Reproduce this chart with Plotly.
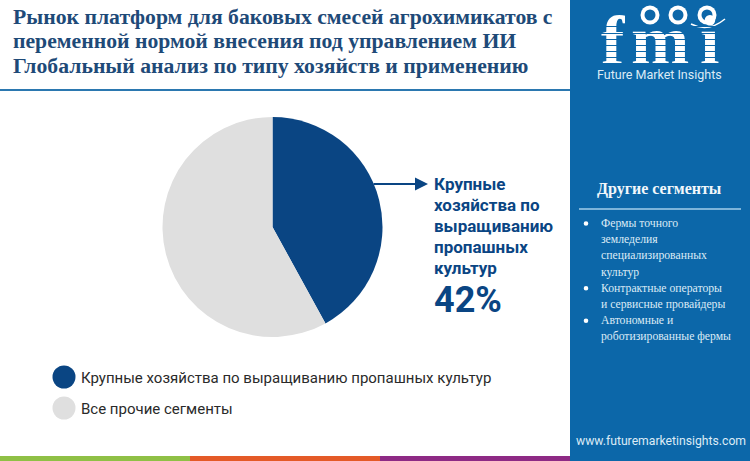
import plotly.graph_objects as go

W = 750
H = 461

title_lines = [
    "Рынок платформ для баковых смесей агрохимикатов с",
    "переменной нормой внесения под управлением ИИ",
    "Глобальный анализ по типу хозяйств и применению",
]
segments = ["Крупные хозяйства по выращиванию пропашных культур", "Все прочие сегменты"]
shares = [42, 58]
colors = ["#0a4583", "#dfdfdf"]
callout_lines = ["Крупные", "хозяйства по", "выращиванию", "пропашных", "культур"]
callout_value = "42%"
other_title = "Другие сегменты"
other_items = [
    ["Фермы точного", "земледелия", "специализированных", "культур"],
    ["Контрактные операторы", "и сервисные провайдеры"],
    ["Автономные и", "роботизированные фермы"],
]

BLUE = "#0c67a9"
SERIF = "Liberation Serif"
SANS = "Roboto"


def px(x):
    return x / W


def py(y):
    return 1 - y / H


def rect(fig, x0, y0, x1, y1, color):
    fig.add_shape(type="rect", xref="paper", yref="paper", x0=px(x0), x1=px(x1),
                  y0=py(y1), y1=py(y0), fillcolor=color, line_width=0, layer="below")


def dot(fig, cx, cy, r, color):
    fig.add_shape(type="circle", xref="paper", yref="paper", x0=px(cx - r), x1=px(cx + r),
                  y0=py(cy + r), y1=py(cy - r), fillcolor=color, line_width=0)


def label(fig, x, y, text, size, color, family=SANS, anchor="left"):
    fig.add_annotation(xref="paper", yref="paper", x=px(x), y=py(y), text=text, showarrow=False,
                       xanchor=anchor, yanchor="middle", align=anchor,
                       font=dict(size=size, color=color, family=family))


fig = go.Figure()
fig.add_trace(go.Pie(
    labels=segments, values=shares, sort=False, direction="clockwise", rotation=0,
    marker=dict(colors=colors, line=dict(width=0)), textinfo="none", showlegend=False,
    domain=dict(x=[px(162.5), px(382.5)], y=[py(337), py(117)]),
))

# panel and bottom stripe
rect(fig, 570, 0, 750, 461, BLUE)
rect(fig, 0, 456, 190, 461, "#8fc045")
rect(fig, 190, 456, 380, 461, "#e45a27")
rect(fig, 380, 456, 570, 461, "#8e2a85")
rect(fig, 0, 89, 570, 91, "#2b78b0")

for i, line in enumerate(title_lines):
    label(fig, 11, 17 + i * 24.5, "<b>" + line + "</b>", 21.7, "#1e4a78", SERIF)

# callout
fig.add_annotation(xref="paper", yref="paper", axref="pixel", ayref="pixel",
                   x=px(428), y=py(184), ax=-56, ay=0, text="", showarrow=True,
                   arrowhead=2, arrowsize=1.3, arrowwidth=2, arrowcolor="#0a4583")
for i, line in enumerate(callout_lines):
    label(fig, 432, 183.5 + i * 21, "<b>" + line + "</b>", 17, "#0a4583")
label(fig, 432, 300, "<b>" + callout_value + "</b>", 36, "#0a4583")

# legend
for i, seg in enumerate(segments):
    cy = 377 + i * 31
    dot(fig, 64, cy, 11.5, colors[i])
    label(fig, 79, cy + 1, seg, 15, "#2a2a2a")

# logo, letters placed one by one and cut into bands
for letter, cx in zip("fmi", [613, 660, 709]):
    label(fig, cx, 41, "<b>" + letter + "</b>", 70, "white", SERIF, "center")
for y in range(27, 66, 6):
    fig.add_annotation(xref="paper", yref="paper", x=px(659), y=py(y), text=" ", showarrow=False,
                       xanchor="center", yanchor="middle", width=132, height=1.4, borderpad=0,
                       borderwidth=0, bgcolor=BLUE, font=dict(size=1))
for cx in [650, 678, 707]:
    dot(fig, cx, 15, 9.5, "white")
    dot(fig, cx, 15, 5.5, BLUE)
fig.add_shape(type="path", xref="paper", yref="paper",
              path=f"M {px(691)} {py(24)} Q {px(708)} {py(33)} {px(725)} {py(19)}",
              line=dict(color="white", width=1.5))
label(fig, 659, 74.5, "Future Market Insights", 12.5, "#dcebf6", SANS, "center")

# other segments
label(fig, 659.5, 189, "<b>" + other_title + "</b>", 16, "#f2f7fb", SERIF, "center")
rect(fig, 579, 208, 741, 210, "#7db4da")
row = 0
for item in other_items:
    dot(fig, 586, 223.5 + row * 16.2, 2.3, "white")
    for line in item:
        label(fig, 599, 223.5 + row * 16.2, line, 11.7, "#dcebf6", SERIF)
        row += 1

label(fig, 661, 441, "www.futuremarketinsights.com", 12.2, "#dcebf6", SANS, "center")

fig.update_layout(width=W, height=H, margin=dict(l=0, r=0, t=0, b=0), paper_bgcolor="white")
fig.write_html("out.html", config={"displayModeBar": False},
               post_script="document.body.style.margin='0';")
